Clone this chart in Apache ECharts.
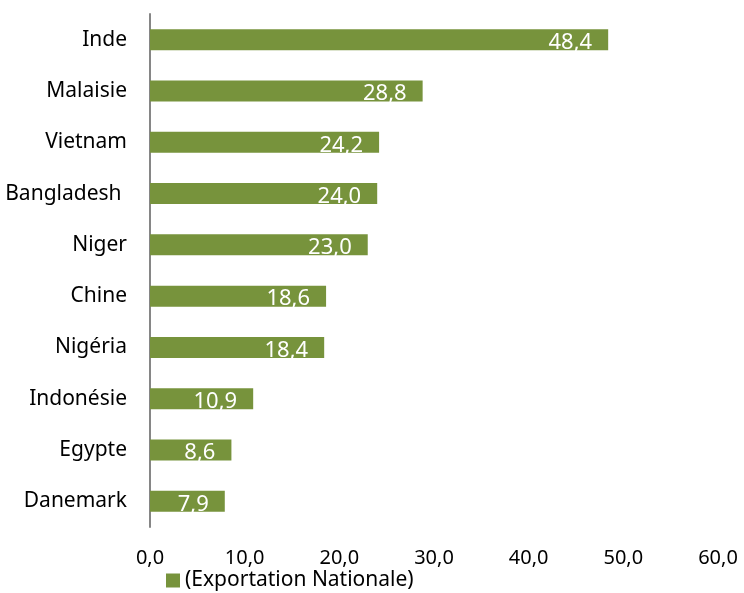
<!DOCTYPE html>
<html><head><meta charset="utf-8">
<script src="https://cdn.jsdelivr.net/npm/echarts@6/dist/echarts.min.js"></script>
<style>html,body{margin:0;padding:0;background:#fff}#c{width:744px;height:593px}</style>
</head><body><div id="c"></div>
<script>
const categories = ['Inde','Malaisie','Vietnam','Bangladesh ','Niger','Chine','Nigéria','Indonésie','Egypte','Danemark'];
const values = [48.4, 28.8, 24.2, 24.0, 23.0, 18.6, 18.4, 10.9, 8.6, 7.9];
const seriesName = '(Exportation Nationale)';
const xTicks = {min: 0, max: 60, interval: 10};
const fmt = v => v.toFixed(1).replace('.', ',');
const FONT = 'Noto Sans';
const chart = echarts.init(document.getElementById('c'));
chart.setOption({
  animation: false,
  textStyle: {fontFamily: FONT},
  grid: {left: 150, right: 26, top: 14, bottom: 66},
  legend: {
    bottom: -3, left: 161, itemWidth: 14, itemHeight: 14, itemGap: 6,
    icon: 'rect',
    textStyle: {fontFamily: FONT, fontSize: 21, color: '#000'},
    data: [seriesName]
  },
  xAxis: {
    type: 'value', min: xTicks.min, max: xTicks.max, interval: xTicks.interval,
    axisLine: {show: false}, axisTick: {show: false}, splitLine: {show: false},
    axisLabel: {formatter: fmt, fontSize: 20, color: '#000', margin: 21, fontFamily: FONT}
  },
  yAxis: {
    type: 'category', data: categories, inverse: true,
    axisLine: {show: true, lineStyle: {color: '#868686', width: 2}},
    axisTick: {show: false},
    axisLabel: {fontSize: 21, color: '#000', margin: 23, fontFamily: FONT}
  },
  series: [{
    name: seriesName, type: 'bar', data: values, barWidth: 21,
    itemStyle: {color: '#77933c'},
    label: {
      show: true, position: 'insideRight', distance: 16,
      formatter: p => fmt(p.value), color: '#fff', fontSize: 22, fontFamily: FONT,
      offset: [0, 3]
    }
  }]
});
</script></body></html>
